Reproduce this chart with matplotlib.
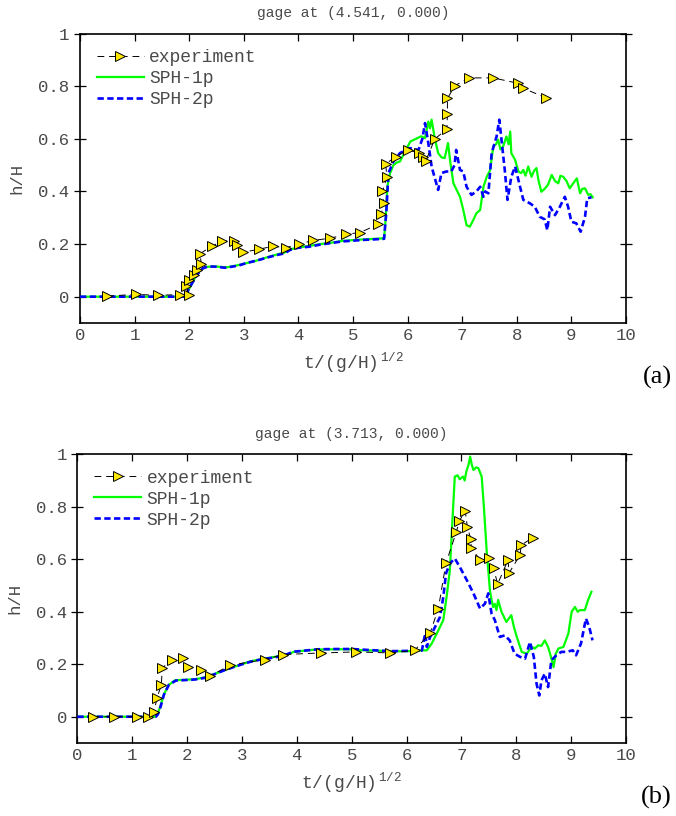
import matplotlib
matplotlib.use("Agg")
import matplotlib.pyplot as plt
import numpy as np

plt.rcParams['font.family'] = ['Liberation Mono', 'DejaVu Sans Mono']
plt.rcParams['mathtext.fontset'] = 'custom'
plt.rcParams['mathtext.rm'] = 'Liberation Mono'
plt.rcParams['mathtext.it'] = 'Liberation Mono'

TEXT_GREY = '#4a4a4a'

# ---------------- gage (a) ----------------
a_title = "gage at (4.541, 0.000)"
a_exp_t = [0.50, 1.03, 1.42, 1.83, 1.99, 1.95, 2.00, 2.08, 2.15, 2.22, 2.20, 2.42, 2.61,
           2.82, 2.88, 2.99, 3.27, 3.54, 3.77, 4.01, 4.27, 4.58, 4.87, 5.13, 5.46, 5.52,
           5.56, 5.54, 5.62, 5.60, 5.79, 6.01, 6.21, 6.29, 6.33, 6.50, 6.72, 6.73, 6.73,
           6.87, 7.13, 7.57, 8.03, 8.12, 8.53]
a_exp_h = [0.002, 0.009, 0.005, 0.008, 0.005, 0.04, 0.065, 0.083, 0.10, 0.125, 0.164,
           0.192, 0.212, 0.212, 0.195, 0.169, 0.18, 0.192, 0.186, 0.20, 0.214, 0.222,
           0.237, 0.244, 0.275, 0.314, 0.355, 0.40, 0.454, 0.505, 0.533, 0.558, 0.546,
           0.533, 0.515, 0.60, 0.637, 0.696, 0.754, 0.803, 0.832, 0.832, 0.811, 0.792, 0.757]

a_sph1_t = [0, 1.90, 1.95, 2.0, 2.1, 2.2, 2.3, 2.45, 2.6, 2.7, 2.85, 3.0, 3.2, 3.4, 3.6,
            3.75, 3.85, 4.0, 4.2, 4.4, 4.6, 4.8, 5.0, 5.2, 5.4, 5.57, 5.60, 5.63, 5.68,
            5.74, 5.80, 5.86, 5.95, 6.05, 6.15, 6.25, 6.32, 6.38, 6.41, 6.44, 6.50, 6.56,
            6.62, 6.68, 6.74, 6.79, 6.84, 6.96, 7.02, 7.08, 7.14, 7.20, 7.26, 7.33, 7.39,
            7.45, 7.51, 7.57, 7.62, 7.66, 7.70, 7.75, 7.81, 7.85, 7.88, 7.90, 7.97, 8.03,
            8.08, 8.12, 8.16, 8.21, 8.27, 8.32, 8.36, 8.40, 8.45, 8.51, 8.57, 8.64, 8.70,
            8.76, 8.80, 8.85, 8.91, 8.97, 9.03, 9.10, 9.16, 9.20, 9.25, 9.31, 9.35, 9.39]
a_sph1_h = [0, 0, 0.01, 0.03, 0.07, 0.10, 0.113, 0.115, 0.113, 0.112, 0.118, 0.125, 0.135,
            0.148, 0.16, 0.168, 0.18, 0.187, 0.193, 0.20, 0.205, 0.212, 0.215, 0.218, 0.22,
            0.222, 0.30, 0.42, 0.47, 0.50, 0.51, 0.514, 0.55, 0.59, 0.60, 0.61, 0.603, 0.666,
            0.64, 0.673, 0.60, 0.546, 0.53, 0.527, 0.584, 0.50, 0.431, 0.38, 0.33, 0.272,
            0.266, 0.29, 0.317, 0.33, 0.418, 0.456, 0.48, 0.571, 0.58, 0.597, 0.56, 0.571,
            0.609, 0.58, 0.628, 0.546, 0.52, 0.476, 0.47, 0.482, 0.46, 0.495, 0.456, 0.48,
            0.489, 0.44, 0.399, 0.41, 0.425, 0.463, 0.44, 0.431, 0.46, 0.456, 0.44, 0.412,
            0.43, 0.45, 0.393, 0.41, 0.412, 0.387, 0.39, 0.378]

a_sph2_t = [0, 1.92, 1.97, 2.05, 2.15, 2.25, 2.35, 2.5, 2.65, 2.75, 2.9, 3.05, 3.25, 3.45,
            3.6, 3.75, 3.85, 4.0, 4.2, 4.4, 4.6, 4.8, 5.0, 5.2, 5.4, 5.57, 5.61, 5.65, 5.74,
            5.86, 6.04, 6.20, 6.27, 6.32, 6.38, 6.44, 6.50, 6.56, 6.62, 6.71, 6.80, 6.86,
            6.89, 6.96, 7.02, 7.08, 7.17, 7.26, 7.33, 7.39, 7.42, 7.48, 7.54, 7.63, 7.68,
            7.72, 7.78, 7.83, 7.90, 7.97, 8.06, 8.12, 8.24, 8.33, 8.42, 8.51, 8.56, 8.61,
            8.70, 8.79, 8.88, 8.94, 9.00, 9.09, 9.17, 9.25, 9.29, 9.37]
a_sph2_h = [0, 0, 0.02, 0.05, 0.085, 0.108, 0.115, 0.114, 0.11, 0.113, 0.118, 0.128, 0.138,
            0.15, 0.158, 0.165, 0.178, 0.186, 0.19, 0.198, 0.204, 0.21, 0.213, 0.216, 0.218,
            0.22, 0.32, 0.47, 0.514, 0.546, 0.565, 0.558, 0.60, 0.66, 0.584, 0.495, 0.45,
            0.406, 0.47, 0.476, 0.476, 0.50, 0.558, 0.482, 0.476, 0.418, 0.387, 0.40, 0.418,
            0.38, 0.40, 0.393, 0.546, 0.609, 0.673, 0.597, 0.482, 0.368, 0.456, 0.495, 0.418,
            0.368, 0.355, 0.342, 0.304, 0.294, 0.253, 0.342, 0.31, 0.342, 0.38, 0.342, 0.285,
            0.279, 0.247, 0.304, 0.374, 0.378]

# ---------------- gage (b) ----------------
b_title = "gage at (3.713, 0.000)"
b_exp_t = [0.28, 0.67, 1.08, 1.28, 1.40, 1.45, 1.53, 1.55, 1.73, 1.93, 2.02, 2.25, 2.42,
           2.78, 3.42, 3.75, 4.45, 5.08, 5.70, 6.15, 6.43, 6.58, 6.72, 6.91, 6.96, 7.07,
           7.11, 7.17, 7.18, 7.34, 7.51, 7.59, 7.66, 7.85, 7.87, 8.07, 8.09, 8.30]
b_exp_h = [0, 0, 0, 0, 0.018, 0.071, 0.12, 0.186, 0.218, 0.225, 0.19, 0.177, 0.155, 0.196,
           0.218, 0.237, 0.243, 0.247, 0.243, 0.253, 0.319, 0.412, 0.586, 0.705, 0.745,
           0.784, 0.721, 0.679, 0.641, 0.599, 0.603, 0.565, 0.505, 0.597, 0.548, 0.616,
           0.654, 0.682]

b_sph1_t = [0, 1.42, 1.45, 1.51, 1.57, 1.66, 1.78, 1.99, 2.15, 2.30, 2.48, 2.65, 2.84, 3.0,
            3.15, 3.39, 3.6, 3.75, 3.85, 3.94, 4.15, 4.36, 4.73, 4.97, 5.21, 5.45, 5.70,
            6.12, 6.30, 6.37, 6.46, 6.58, 6.67, 6.73, 6.79, 6.85, 6.88, 6.93, 6.97, 7.03,
            7.06, 7.09, 7.13, 7.16, 7.19, 7.22, 7.27, 7.31, 7.37, 7.41, 7.46, 7.52, 7.55,
            7.58, 7.61, 7.64, 7.67, 7.73, 7.82, 7.91, 7.96, 8.01, 8.10, 8.19, 8.28, 8.34,
            8.40, 8.46, 8.52, 8.58, 8.63, 8.68, 8.72, 8.77, 8.86, 8.95, 9.01, 9.07, 9.12,
            9.16, 9.25, 9.31, 9.37]
b_sph1_h = [0, 0, 0.005, 0.037, 0.081, 0.12, 0.139, 0.141, 0.143, 0.149, 0.161, 0.175,
            0.189, 0.20, 0.211, 0.221, 0.228, 0.234, 0.238, 0.247, 0.252, 0.256, 0.257,
            0.257, 0.253, 0.252, 0.249, 0.25, 0.253, 0.253, 0.279, 0.329, 0.368, 0.456,
            0.558, 0.80, 0.915, 0.92, 0.905, 0.915, 0.90, 0.934, 0.96, 0.991, 0.96, 0.94,
            0.95, 0.947, 0.915, 0.80, 0.635, 0.482, 0.445, 0.418, 0.43, 0.406, 0.445, 0.40,
            0.361, 0.387, 0.34, 0.304, 0.247, 0.24, 0.266, 0.26, 0.272, 0.27, 0.291, 0.266,
            0.23, 0.189, 0.24, 0.26, 0.266, 0.317, 0.40, 0.418, 0.40, 0.406, 0.406, 0.445,
            0.476]

b_sph2_t = [0, 1.43, 1.47, 1.52, 1.58, 1.67, 1.8, 2.0, 2.15, 2.32, 2.5, 2.68, 2.86, 3.05,
            3.2, 3.4, 3.6, 3.76, 3.88, 3.96, 4.2, 4.4, 4.7, 5.0, 5.25, 5.5, 5.75, 6.1, 6.28,
            6.34, 6.37, 6.43, 6.52, 6.61, 6.67, 6.72, 6.79, 6.88, 6.97, 7.10, 7.22, 7.34,
            7.43, 7.49, 7.55, 7.61, 7.70, 7.79, 7.88, 7.97, 8.07, 8.16, 8.25, 8.32, 8.37,
            8.42, 8.46, 8.52, 8.58, 8.64, 8.73, 8.82, 8.91, 9.03, 9.09, 9.18, 9.27, 9.33, 9.39]
b_sph2_h = [0, 0, 0.01, 0.04, 0.085, 0.122, 0.138, 0.14, 0.142, 0.148, 0.162, 0.177, 0.19,
            0.203, 0.212, 0.22, 0.226, 0.233, 0.243, 0.248, 0.253, 0.257, 0.258, 0.258,
            0.255, 0.252, 0.25, 0.251, 0.252, 0.317, 0.266, 0.304, 0.342, 0.38, 0.456,
            0.546, 0.584, 0.603, 0.571, 0.52, 0.47, 0.412, 0.431, 0.47, 0.393, 0.368, 0.304,
            0.31, 0.291, 0.24, 0.228, 0.221, 0.285, 0.228, 0.126, 0.081, 0.139, 0.164, 0.113,
            0.215, 0.234, 0.247, 0.247, 0.253, 0.234, 0.279, 0.374, 0.342, 0.291]

x_ticks = [0, 1, 2, 3, 4, 5, 6, 7, 8, 9, 10]
y_ticks = [0, 0.2, 0.4, 0.6, 0.8, 1]
y_tick_labels = ["0", "0.2", "0.4", "0.6", "0.8", "1"]
legend_labels = ["experiment", "SPH-1p", "SPH-2p"]

fig = plt.figure(figsize=(6.76, 8.16), dpi=100)


def draw_panel(rect, title, exp_t, exp_h, s1_t, s1_h, s2_t, s2_h, tag, tag_y):
    ax = fig.add_axes(rect)
    ax.plot(s1_t, s1_h, color='#00ff00', lw=1.6, zorder=2, label=legend_labels[1])
    ax.plot(s2_t, s2_h, color='#0000ff', lw=1.9, ls=(0, (2.4, 1.3)), zorder=3,
            label=legend_labels[2])
    ax.plot(exp_t, exp_h, color='black', lw=0.7, ls=(0, (7, 5)), marker='>',
            markersize=6.5, markerfacecolor='#ffe800', markeredgecolor='black',
            markeredgewidth=0.7, zorder=4, label=legend_labels[0])

    ax.set_xlim(0, 10)
    ax.set_ylim(-0.1, 1)
    ax.set_xticks(x_ticks)
    ax.set_yticks(y_ticks)
    ax.set_yticklabels(y_tick_labels)
    ax.tick_params(axis='both', labelsize=12.5, labelcolor=TEXT_GREY, width=0.9,
                   length=5, direction='in', top=True, right=True)
    ax.tick_params(axis='y', which='both', left=True, direction='inout', length=8)
    ax.tick_params(axis='y', right=True)
    for sp in ax.spines.values():
        sp.set_linewidth(1.2)

    ax.set_title(title, fontsize=10.5, color=TEXT_GREY, pad=12)
    ax.set_xlabel(r'$\mathrm{t/(g/H)}^{\,\mathrm{1/2}}$', fontsize=13, color=TEXT_GREY,
                  labelpad=6)
    ax.set_ylabel('h/H', fontsize=12.5, color=TEXT_GREY, labelpad=10)

    handles, labels = ax.get_legend_handles_labels()
    order = [2, 0, 1]
    ax.legend([handles[i] for i in order], [labels[i] for i in order],
              loc='upper left', bbox_to_anchor=(0.008, 0.99), frameon=False,
              fontsize=13, handlelength=2.6, handletextpad=0.3, labelspacing=0.22,
              borderpad=0.2, numpoints=1, labelcolor=TEXT_GREY)

    fig.text(0.994, tag_y, tag, fontsize=19, family='Liberation Serif', ha='right',
             va='center', color='black')
    return ax


draw_panel([0.1183, 0.6042, 0.8077, 0.3545], a_title, a_exp_t, a_exp_h,
           a_sph1_t, a_sph1_h, a_sph2_t, a_sph2_h, "(a)", 1 - 377 / 816)
draw_panel([0.1144, 0.0895, 0.8116, 0.3538], b_title, b_exp_t, b_exp_h,
           b_sph1_t, b_sph1_h, b_sph2_t, b_sph2_h, "(b)", 1 - 797 / 816)

fig.savefig("out.png", dpi=100)
